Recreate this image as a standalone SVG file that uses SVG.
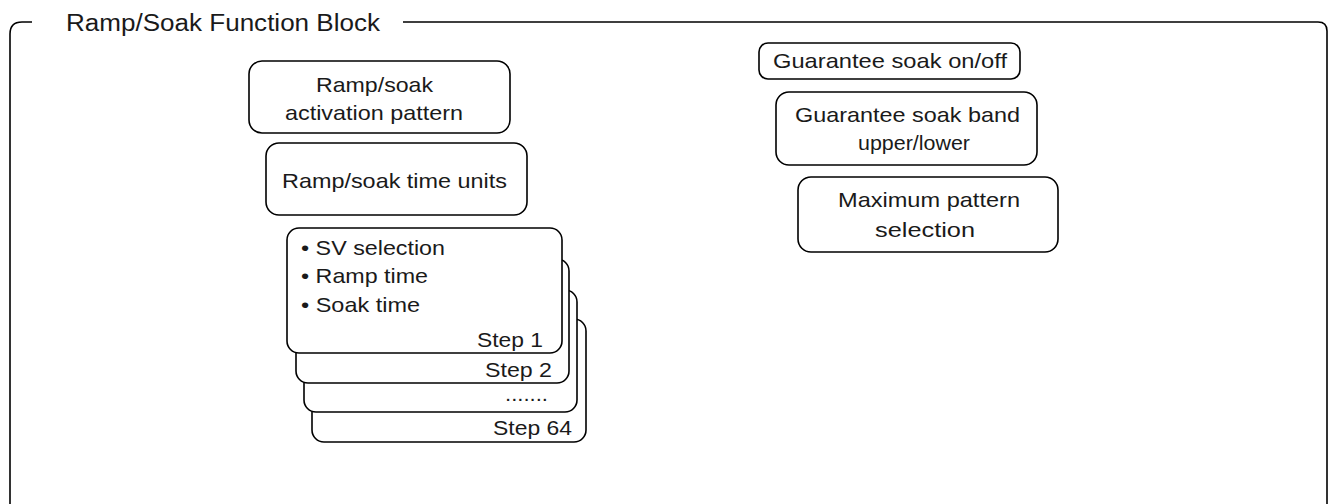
<svg xmlns="http://www.w3.org/2000/svg" width="1328" height="504" viewBox="0 0 1328 504">
<style>
  .box { fill: #fff; stroke: #000; stroke-width: 1.6; }
  .frame { fill: none; stroke: #000; stroke-width: 1.6; }
  text { font-family: "Liberation Sans", Arial, sans-serif; font-size: 21px; fill: #1a1a1a; }
  .title { font-size: 23px; }
</style>
<rect width="1328" height="504" fill="#fff"/>
<g id="frame">
  <path class="frame" d="M32,22 H22 Q10,22 10,34 V504"/>
  <path class="frame" d="M403,22 H1318 Q1327,22 1327,31 V504"/>
  <text class="title" x="66" y="31" textLength="314" lengthAdjust="spacingAndGlyphs">Ramp/Soak Function Block</text>
</g>
<g id="activation-pattern">
  <rect class="box" x="249" y="61" width="261" height="72" rx="13"/>
  <text x="316" y="92" textLength="117" lengthAdjust="spacingAndGlyphs">Ramp/soak</text>
  <text x="285" y="120" textLength="178" lengthAdjust="spacingAndGlyphs">activation pattern</text>
</g>
<g id="time-units">
  <rect class="box" x="266" y="143" width="261" height="72" rx="13"/>
  <text x="282" y="188" textLength="225" lengthAdjust="spacingAndGlyphs">Ramp/soak time units</text>
</g>
<g id="step-64">
  <rect class="box" x="312" y="319" width="274" height="123" rx="12"/>
  <text x="493" y="435" textLength="79" lengthAdjust="spacingAndGlyphs">Step 64</text>
</g>
<g id="step-dots">
  <rect class="box" x="304" y="290" width="273" height="122" rx="12"/>
  <text x="505" y="401" textLength="43" lengthAdjust="spacingAndGlyphs">.......</text>
</g>
<g id="step-2">
  <rect class="box" x="296" y="259" width="273" height="124" rx="12"/>
  <text x="485" y="377" textLength="67" lengthAdjust="spacingAndGlyphs">Step 2</text>
</g>
<g id="step-1">
  <rect class="box" x="287" y="228" width="275" height="125" rx="12"/>
  <text x="301" y="255" textLength="144" lengthAdjust="spacingAndGlyphs">• SV selection</text>
  <text x="301" y="283" textLength="127" lengthAdjust="spacingAndGlyphs">• Ramp time</text>
  <text x="301" y="312" textLength="119" lengthAdjust="spacingAndGlyphs">• Soak time</text>
  <text x="477" y="347" textLength="66" lengthAdjust="spacingAndGlyphs">Step 1</text>
</g>
<g id="guarantee-onoff">
  <rect class="box" x="759" y="43" width="261" height="36" rx="9"/>
  <text x="773" y="68" textLength="234" lengthAdjust="spacingAndGlyphs">Guarantee soak on/off</text>
</g>
<g id="guarantee-band">
  <rect class="box" x="776" y="92" width="261" height="73" rx="13"/>
  <text x="795" y="122" textLength="225" lengthAdjust="spacingAndGlyphs">Guarantee soak band</text>
  <text x="858" y="150" textLength="112" lengthAdjust="spacingAndGlyphs">upper/lower</text>
</g>
<g id="max-pattern">
  <rect class="box" x="798" y="177" width="260" height="75" rx="13"/>
  <text x="838" y="207" textLength="182" lengthAdjust="spacingAndGlyphs">Maximum pattern</text>
  <text x="875" y="237" textLength="100" lengthAdjust="spacingAndGlyphs">selection</text>
</g>
<g id="connectors"></g>
</svg>
